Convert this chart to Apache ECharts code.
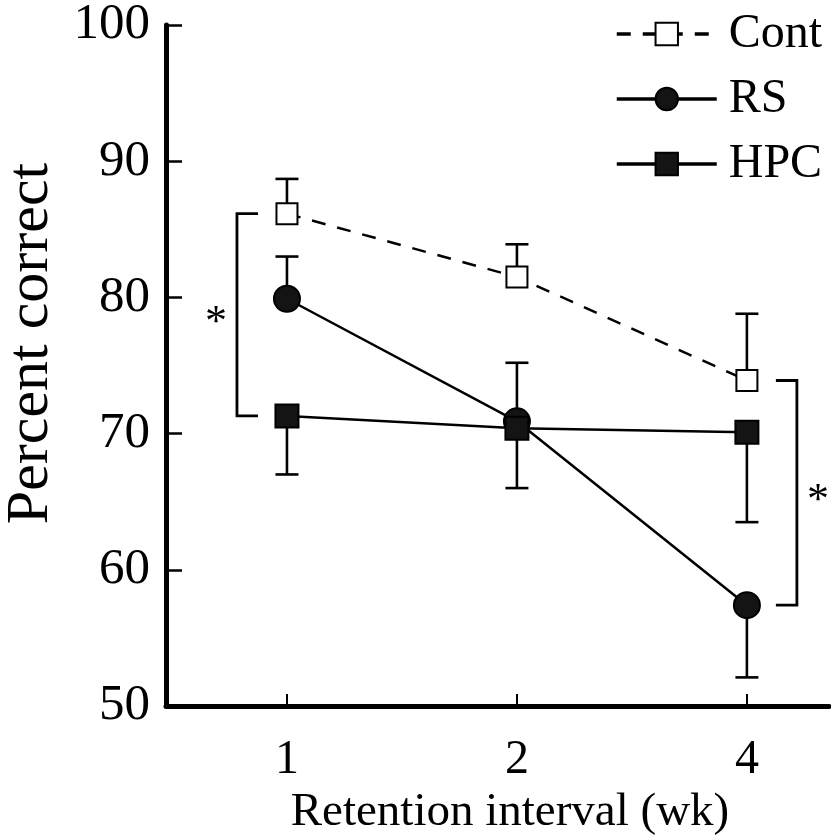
<!DOCTYPE html>
<html><head><meta charset="utf-8">
<script src="https://cdn.jsdelivr.net/npm/echarts@6/dist/echarts.min.js"></script>
<style>html,body{margin:0;padding:0;background:#fff}#c{width:831px;height:838px}</style>
</head><body><div id="c"></div>
<script>
// ---- data ----
const categories = ['1', '2', '4'];
const seriesNames = ['Cont', 'RS', 'HPC'];
const contMean = [86.15, 81.5, 73.9];
const contErr = [2.55, 2.4, 4.9];
const contErrDir = [1, 1, 1];
const rsMean = [79.9, 70.9, 57.4];
const rsErr = [3.1, 4.3, 5.3];
const rsErrDir = [1, 1, -1];
const hpcMean = [71.3, 70.4, 70.1];
const hpcErr = [4.3, 4.4, 6.6];
const hpcErrDir = [-1, -1, -1];
const yTicks = [50, 60, 70, 80, 90, 100];
const xLabel = 'Retention interval (wk)';
const yLabel = 'Percent correct';
const sigMark = '*';

const FONT = '"Liberation Serif", "Times New Roman", serif';
const INK = '#000';

function lineSeries(name, mean, symbol, size, fill) {
  return {
    type: 'line', name: name, z: 5,
    symbol: symbol, symbolSize: size, showSymbol: true,
    lineStyle: { color: INK, width: 2.5, type: name === 'Cont' ? [14, 12] : 'solid' },
    itemStyle: { color: fill, borderColor: INK, borderWidth: 2 },
    emphasis: { disabled: true },
    data: mean.map((m, i) => [i, m])
  };
}

function errSeries(name, mean, err, dir) {
  return {
    type: 'custom', name: name + '_err', silent: true, z: 2,
    renderItem(params, api) {
      const x = api.value(0), y = api.value(1), e = api.value(2), d = api.value(3);
      const p0 = api.coord([x, y]);
      const p1 = api.coord([x, y + d * e]);
      const hw = 11.5;
      return { type: 'group', children: [
        { type: 'line', shape: { x1: p0[0], y1: p0[1], x2: p1[0], y2: p1[1] }, style: { stroke: INK, lineWidth: 2.6 } },
        { type: 'line', shape: { x1: p1[0] - hw, y1: p1[1], x2: p1[0] + hw, y2: p1[1] }, style: { stroke: INK, lineWidth: 2.6 } }
      ] };
    },
    data: mean.map((m, i) => [i, m, err[i], dir[i]])
  };
}

const bracketData = [
  [0, contMean[0], hpcMean[0], -1],
  [2, contMean[2], rsMean[2], 1]
];

const option = {
  backgroundColor: '#fff',
  animation: false,
  grid: { left: 166, right: 2, top: 25, bottom: 132, containLabel: false, outerBoundsMode: 'none' },
  legend: {
    data: seriesNames,
    orient: 'vertical', left: 610, top: 5,
    itemWidth: 100, itemHeight: 28, itemGap: 17,
    lineStyle: { width: 3.5 },
    textStyle: { fontFamily: FONT, fontSize: 48, color: INK, lineHeight: 48, padding: [0, 0, 0, 7] },
    selectedMode: false
  },
  xAxis: {
    type: 'value', min: -0.526, max: 2.357,
    name: xLabel, nameLocation: 'middle', nameGap: 83,
    nameTextStyle: { fontFamily: FONT, fontSize: 47, color: INK, padding: [0, 0, 0, 25] },
    axisLine: { show: true, onZero: false, lineStyle: { color: INK, width: 5 } },
    axisTick: { show: true, inside: true, length: 12, lineStyle: { color: INK, width: 2 }, customValues: [0, 1, 2] },
    axisLabel: { fontFamily: FONT, fontSize: 48, color: INK, margin: 30, customValues: [0, 1, 2],
      formatter: v => categories[Math.round(v)] },
    splitLine: { show: false }
  },
  yAxis: {
    type: 'value', min: 50, max: 100, interval: 10,
    name: yLabel, nameLocation: 'middle', nameGap: 105,
    nameTextStyle: { fontFamily: FONT, fontSize: 60, color: INK, padding: [0, 0, 0, 44] },
    axisLine: { show: true, onZero: false, lineStyle: { color: INK, width: 5 } },
    axisTick: { show: true, inside: true, length: 16, lineStyle: { color: INK, width: 2.5 } },
    axisLabel: { fontFamily: FONT, fontSize: 51, color: INK, margin: 16,
      formatter: v => (yTicks.indexOf(v) >= 0 ? String(v) : '') },
    splitLine: { show: false }
  },
  series: [
    errSeries('Cont', contMean, contErr, contErrDir),
    errSeries('RS', rsMean, rsErr, rsErrDir),
    errSeries('HPC', hpcMean, hpcErr, hpcErrDir),
    lineSeries('Cont', contMean, 'rect', 21, '#fff'),
    lineSeries('RS', rsMean, 'circle', 26, '#141414'),
    lineSeries('HPC', hpcMean, 'rect', 23, '#141414'),
    {
      type: 'custom', name: 'sig', silent: true, z: 3,
      renderItem(params, api) {
        const x = api.value(0), top = api.value(1), bot = api.value(2), side = api.value(3);
        const pt = api.coord([x, top]), pb = api.coord([x, bot]);
        const vx = pt[0] + side * 50;
        const ix = vx - side * 21;
        const mid = (pt[1] + pb[1]) / 2;
        return { type: 'group', children: [
          { type: 'polyline', shape: { points: [[ix, pt[1]], [vx, pt[1]], [vx, pb[1]], [ix, pb[1]]] },
            style: { stroke: INK, lineWidth: 2.8, fill: null } },
          { type: 'text', x: vx + side * 21, y: mid + 9,
            style: { text: sigMark, font: '44px ' + FONT, fill: INK, align: 'center', verticalAlign: 'middle' } }
        ] };
      },
      data: bracketData
    }
  ]
};

const chart = echarts.init(document.getElementById('c'), null, { renderer: 'canvas' });
chart.setOption(option);
</script>
</body></html>
